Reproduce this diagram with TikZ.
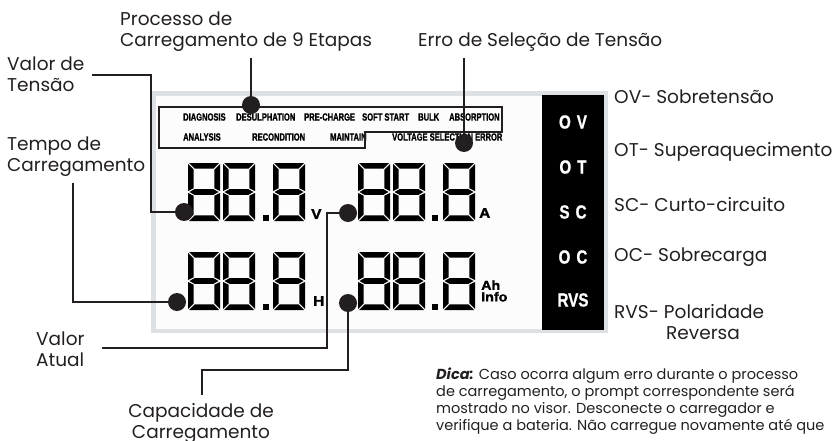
\documentclass[tikz,border=0pt]{standalone}
\usepackage{fontspec}
\setmainfont{Poppins}
\newfontfamily\lcdfont[FakeStretch=0.72,FakeBold=1.2]{Liberation Sans}
\newfontfamily\panelfont[FakeStretch=0.8,FakeBold=1]{Liberation Sans}
\newfontfamily\unitfont[FakeStretch=1.1,FakeBold=1.5]{Liberation Sans}
\usetikzlibrary{positioning, backgrounds}

\definecolor{ink}{HTML}{231F20}
\definecolor{framegray}{HTML}{DDE1E4}
\definecolor{screen}{HTML}{FCFCFC}

% one seven-segment digit, top-left corner at (#1,#2)
\newcommand{\lcddigit}[2]{%
  \begin{scope}[shift={(#1,#2)}]
    \fill[segment] (1,0) -- (31,0) -- (25.3,5.7) -- (6.7,5.7) -- cycle;
    \fill[segment] (1,58) -- (31,58) -- (25.3,52.3) -- (6.7,52.3) -- cycle;
    \fill[segment] (1.5,29) -- (6.5,26.2) -- (25.5,26.2) -- (30.5,29) -- (25.5,31.8) -- (6.5,31.8) -- cycle;
    \fill[segment] (0,1) -- (5.7,6.7) -- (5.7,25.2) -- (0,28) -- cycle;
    \fill[segment] (32,1) -- (26.3,6.7) -- (26.3,25.2) -- (32,28) -- cycle;
    \fill[segment] (0,30) -- (5.7,32.8) -- (5.7,51.3) -- (0,57) -- cycle;
    \fill[segment] (32,30) -- (26.3,32.8) -- (26.3,51.3) -- (32,57) -- cycle;
  \end{scope}}

\begin{document}
\begin{tikzpicture}[
    x=1pt, y=-1pt,
    callout/.style={font=\fontsize{18.5}{21}\selectfont, text=ink, align=left, inner sep=0pt, anchor=base west},
    stage/.style={font=\lcdfont\bfseries\fontsize{10.5}{12}\selectfont, inner sep=0pt, anchor=west},
    fault/.style={font=\panelfont\bfseries\fontsize{19}{20}\selectfont, text=white, inner sep=0pt},
    unit/.style={font=\unitfont\bfseries\fontsize{14}{14}\selectfont, inner sep=0pt, anchor=west},
    leader/.style={draw=ink, line width=2pt},
    pin/.style={circle, fill=ink, minimum size=18pt, inner sep=0pt},
    segment/.style={fill=black},
]
\useasboundingbox (0,0) rectangle (837,441);

% LCD screen with the fault column
\fill[framegray] (151,91) rectangle (608,333);
\fill[screen] (156,96) rectangle (604,329);
\fill[black] (542,95) rectangle (604,330);

% charging stages
\node[stage] (diagnosis) at (183,117) {DIAGNOSIS};
\node[stage] (desulph) at (236,117) {DESULPHATION};
\node[stage] (precharge) at (304,117) {PRE-CHARGE};
\node[stage] (softstart) at (362,117) {SOFT START};
\node[stage] (bulk) at (418,117) {BULK};
\node[stage] (absorption) at (449,117) {ABSORPTION};
\node[stage] (analysis) at (183,137) {ANALYSIS};
\node[stage] (recondition) at (252,137) {RECONDITION};
\node[stage] (maintain) at (330,137) {MAINTAIN};
\node[stage] (vselerror) at (392,137) {VOLTAGE SELECTION ERROR};
\draw[ink, line width=1.6pt] (159,107) -- (502,107) -- (502,132) -- (365,132)
    -- (365,148) -- (159,148) -- cycle;

% digits
\foreach \dx in {188,223,273,358,393,443}
  \foreach \dy in {163,252}
    {\lcddigit{\dx}{\dy}}
\foreach \px in {263,432}
  \foreach \py in {215,304}
    {\fill[segment] (\px,\py) rectangle ++(6,6);}

\node[unit] (unitv) at (311,214) {V};
\node[unit] (unita) at (479,213) {A};
\node[unit] (unith) at (313,301) {H};
\node[unit, align=left, font=\unitfont\bfseries\fontsize{13}{11.5}\selectfont] (unitah) at (481,291) {Ah\\Info};

% fault codes
\node[fault] (codeov) at (573,122) {O\hspace{6pt}V};
\node[fault] (codeot) at (573,167) {O\hspace{6pt}T};
\node[fault] (codesc) at (573,212) {S\hspace{6pt}C};
\node[fault] (codeoc) at (573,257) {O\hspace{6pt}C};
\node[fault] (codervs) at (573,300) {RVS};

% callouts
\node[callout] (lblstage) at (120,46.5) {Processo de\\Carregamento de 9 Etapas};
\node[callout] (lblerror) at (418,46.5) {Erro de Seleção de Tensão};
\node[callout] (lblvolt) at (7,91.5) {Valor de\\Tensão};
\node[callout] (lbltime) at (7,171.5) {Tempo de\\Carregamento};
\node[callout] (lblcur) at (36,366.5) {Valor\\Atual};
\node[callout, align=center, anchor=base] (lblcap) at (201,438.5) {Capacidade de\\Carregamento};
\node[callout] (lblov) at (614,103) {OV- Sobretensão};
\node[callout] (lblot) at (614,156.5) {OT- Superaquecimento};
\node[callout] (lblsc) at (614,211.5) {SC- Curto-circuito};
\node[callout] (lbloc) at (614,261.5) {OC- Sobrecarga};
\node[callout] (lblrvs) at (614,339.5) {RVS- Polaridade\\\hspace{52pt}Reversa};

\node[font=\fontsize{14.5}{17}\selectfont, text=ink, align=left, inner sep=0pt, anchor=base west]
    (tip) at (436,430) {\textbf{\textit{Dica:}} Caso ocorra algum erro durante o processo\\
    de carregamento, o prompt correspondente será\\
    mostrado no visor. Desconecte o carregador e\\
    verifique a bateria. Não carregue novamente até que};

% pins and leaders
\node[pin] (dotstage) at (251,105) {};
\node[pin] (doterror) at (464,143) {};
\node[pin] (dotvolt) at (184,212) {};
\node[pin] (dottime) at (177,302) {};
\node[pin] (dotcur) at (348,213) {};
\node[pin] (dotcap) at (348,303) {};

\coordinate (stagestart) at (251,58);
\coordinate (errorstart) at (464,58);
\coordinate (voltstart) at (92,75);
\coordinate (timestart) at (73,183);
\coordinate (curstart) at (102,348);
\coordinate (capstart) at (202,395);

\draw[leader] (stagestart) -- (dotstage.center);
\draw[leader] (errorstart) -- (doterror.center);
\draw[leader] (voltstart) -| ([xshift=-33pt]dotvolt.center) -- (dotvolt.center);
\draw[leader] (timestart) |- (dottime.center);
\draw[leader] (curstart) -| ([xshift=-21pt]dotcur.center) -- (dotcur.center);
\draw[leader] (capstart) -- ++(0,-25) -| (dotcap.center);

\end{tikzpicture}
\end{document}
